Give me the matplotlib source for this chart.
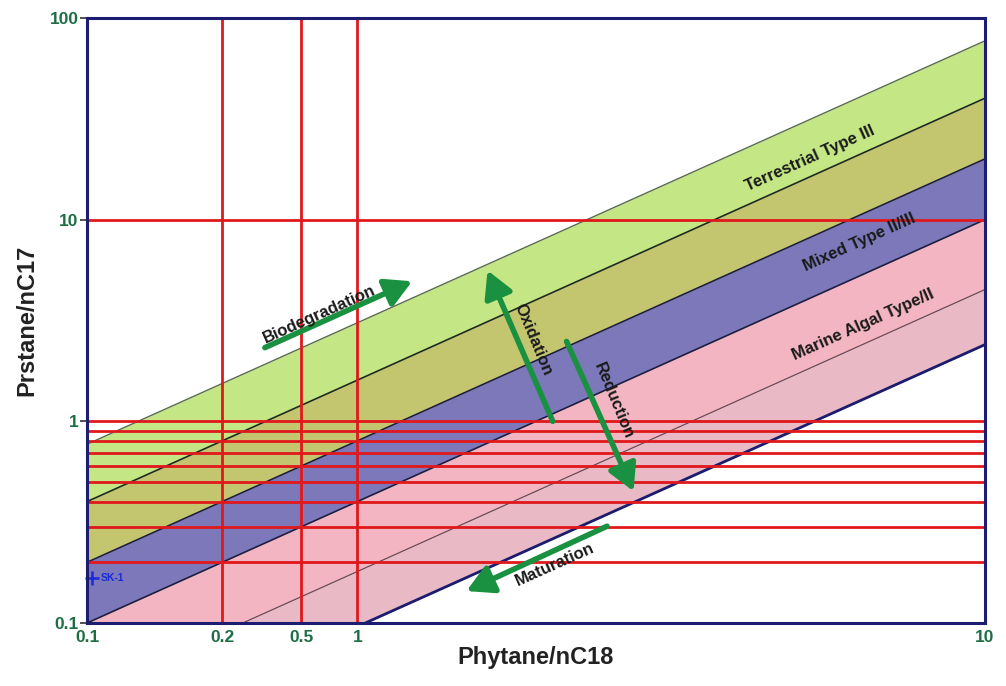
import numpy as np
import matplotlib
matplotlib.use("Agg")
import matplotlib.pyplot as plt

plt.rcParams['font.family'] = ['Liberation Sans', 'DejaVu Sans']

# ---- data ----
x_range = [0.1, 10]
# boundary lines: Pr/nC17 = k * Ph/nC18
line_coefs = [7.7, 4.0, 2.0, 1.0, 0.45, 0.24]
band_names = ["Terrestrial Type III", "Mixed Type II/III", "Marine Algal Type/II"]
band_colors = ["#c4e684", "#c3c66e", "#7c78ba", "#f2b5c1", "#e9b9c6"]
h_grid_y = [10, 1, 0.9, 0.8, 0.7, 0.6, 0.5, 0.4, 0.3, 0.2]
v_grid_x = [0.2, 0.3, 0.4]
x_ticks = [0.1, 0.2, 0.3, 0.4, 10]
x_tick_labels = ["0.1", "0.2", "0.5", "1", "10"]
y_ticks = [0.1, 1, 10, 100]
y_tick_labels = ["0.1", "1", "10", "100"]
sample_name = "SK-1"
sample_x = [0.1025]
sample_y = [0.168]

fig = plt.figure(figsize=(10.06, 6.86), dpi=100)
ax = fig.add_axes([0.0865, 0.0918, 0.8925, 0.882])
ax.set_xscale('log')
ax.set_yscale('log')
ax.set_xlim(0.1, 10)
ax.set_ylim(0.1, 100)

xs = np.geomspace(x_range[0], x_range[1], 200)
for i in range(len(line_coefs) - 1):
    ax.fill_between(xs, line_coefs[i + 1] * xs, line_coefs[i] * xs,
                    color=band_colors[i], linewidth=0, zorder=1)

line_styles = [("#5a6a50", 1.0), ("#1e2a1e", 1.2), ("#1e1e40", 1.2),
               ("#1e1e40", 1.2), ("#6a4a55", 0.9), ("#1c1c6e", 2.0)]
for k, (c, lw) in zip(line_coefs, line_styles):
    ax.plot(xs, k * xs, color=c, lw=lw, zorder=2)

for y in h_grid_y:
    ax.axhline(y, color="#e0181c", lw=2.0, zorder=3)
for x in v_grid_x:
    ax.axvline(x, color="#e0181c", lw=2.0, zorder=3)

# sample point
ax.plot(sample_x, sample_y, marker='+', color="#1a2ad8", ms=10, mew=1.8,
        zorder=6, clip_on=False, linestyle='none')
ax.text(sample_x[0] * 1.045, sample_y[0], sample_name, color="#1a2ad8",
        fontsize=7.5, fontweight='bold', va='center', ha='left', zorder=6)

# arrows (data coordinates)
green = "#1a9140"
arrows = [
    ((0.249, 2.32), (0.53, 4.95)),    # Biodegradation
    ((1.09, 1.0), (0.78, 5.6)),       # Oxidation
    ((1.17, 2.49), (1.65, 0.45)),     # Reduction
    ((1.44, 0.302), (0.70, 0.144)),   # Maturation
]
for (x0, y0), (x1, y1) in arrows:
    ax.annotate("", xy=(x1, y1), xytext=(x0, y0),
                arrowprops=dict(arrowstyle="-|>,head_length=1.0,head_width=0.55",
                                mutation_scale=16, color=green, lw=4,
                                shrinkA=0, shrinkB=0),
                zorder=7)

angle = np.degrees(np.arctan((201.0 / 449.0)))
lab_kw = dict(fontsize=12, fontweight='bold', color="#1a1a1a",
              ha='center', va='center', rotation_mode='anchor', zorder=8)
ax.text(0.33, 3.4, "Biodegradation", rotation=angle, **lab_kw)
ax.text(0.985, 2.55, "Oxidation", rotation=-67.5, **lab_kw)
ax.text(1.49, 1.26, "Reduction", rotation=-67.5, **lab_kw)
ax.text(1.10, 0.196, "Maturation", rotation=angle, **lab_kw)
ax.text(4.07, 20.0, band_names[0], rotation=angle, **lab_kw)
ax.text(5.24, 7.7, band_names[1], rotation=angle, **lab_kw)
ax.text(5.35, 3.02, band_names[2], rotation=angle, **lab_kw)

# axes styling
for s in ax.spines.values():
    s.set_color("#1c1c70")
    s.set_linewidth(2.2)
    s.set_zorder(9)

tick_color = "#1e6e45"
ax.set_xticks(x_ticks)
ax.set_xticklabels(x_tick_labels)
ax.set_yticks(y_ticks)
ax.set_yticklabels(y_tick_labels)
ax.xaxis.set_minor_locator(matplotlib.ticker.NullLocator())
ax.yaxis.set_minor_locator(matplotlib.ticker.NullLocator())
ax.tick_params(axis='x', length=0, pad=5, labelsize=12.5, labelcolor=tick_color)
ax.tick_params(axis='y', length=5, width=1.2, color="#333333", pad=1,
               labelsize=12.5, labelcolor=tick_color)
for lbl in ax.get_xticklabels() + ax.get_yticklabels():
    lbl.set_fontweight('bold')

ax.set_xlabel("Phytane/nC18", fontsize=17, fontweight='bold', color="#222222",
              labelpad=1)
ax.set_ylabel("Prstane/nC17", fontsize=17, fontweight='bold', color="#222222",
              labelpad=8)

fig.savefig("out.png", dpi=100)
